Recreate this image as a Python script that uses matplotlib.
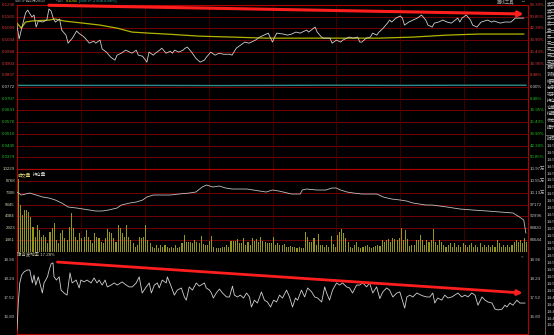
import numpy as np
import matplotlib
matplotlib.use("Agg")
import matplotlib.pyplot as plt

plt.rcParams['font.family'] = ['Liberation Sans', 'Noto Sans CJK SC', 'DejaVu Sans']

W, H = 554, 335

# ---------------- data ----------------
pre_close = 0.0772          # 0.00% line
price_step = 0.006547       # one grid step = 8.48%

price_labels = ["0.1230", "0.1165", "0.1099", "0.1034", "0.0968", "0.0903", "0.0837",
                "0.0772", "0.0707", "0.0641", "0.0576", "0.0510", "0.0445", "0.0379"]
pct_labels = ["59.33%", "50.85%", "42.38%", "33.90%", "25.43%", "16.95%", "8.48%",
              "0.00%", "8.48%", "16.95%", "25.43%", "33.90%", "42.38%", "50.85%"]

# minutes since open / last price
price_t = [0, 1, 2, 4, 5, 7, 8, 9, 10, 12,
           14, 15, 16, 17, 18, 20, 21, 23, 24, 26,
           28, 29, 31, 32, 34, 36, 37, 39, 40, 42,
           44, 46, 47, 49, 51, 53, 54, 56, 57, 59,
           61, 62, 64, 65, 67, 68, 70, 72, 73, 74,
           76, 78, 79, 80, 82, 84, 86, 88, 89, 91,
           93, 95, 97, 100, 101, 103, 105, 107, 109, 112,
           114, 116, 118, 120, 121, 122, 125, 127, 129, 131,
           133, 134, 136, 137, 140, 141, 143, 144, 147, 148,
           150, 152, 153, 155, 156, 158, 160, 161, 162, 164,
           166, 167, 169, 170, 172, 174, 175, 176, 178, 180,
           181, 182, 184, 186, 188, 190, 192, 193, 195, 196,
           198, 200, 202, 204, 207, 208, 209, 211, 213, 214,
           216, 218, 221, 223, 224, 227, 229, 232, 234, 236,
           238]
price = [0.1118, 0.1040, 0.1090, 0.1185, 0.1202, 0.1163, 0.1174, 0.1107, 0.1141, 0.1135,
         0.1146, 0.1208, 0.1197, 0.1157, 0.1135, 0.1152, 0.1090, 0.1062, 0.1017, 0.1045,
         0.1085, 0.1073, 0.1056, 0.1045, 0.1017, 0.1028, 0.1017, 0.1034, 0.0984, 0.0967,
         0.0939, 0.0922, 0.0950, 0.0961, 0.0978, 0.0967, 0.0961, 0.0978, 0.0950, 0.0944,
         0.0911, 0.0967, 0.0950, 0.0961, 0.0978, 0.0989, 0.0961, 0.0972, 0.0961, 0.0978,
         0.0967, 0.0978, 0.0989, 0.0995, 0.0967, 0.0933, 0.0911, 0.0922, 0.0939, 0.0967,
         0.0950, 0.0961, 0.0955, 0.0955, 0.0950, 0.0989, 0.1006, 0.1023, 0.1017, 0.1034,
         0.1051, 0.1062, 0.1073, 0.1023, 0.1051, 0.1073, 0.1068, 0.1062, 0.1068, 0.1079,
         0.1073, 0.1079, 0.1090, 0.1079, 0.1107, 0.1079, 0.1051, 0.1045, 0.1045, 0.1017,
         0.1034, 0.1023, 0.1034, 0.1045, 0.1051, 0.1045, 0.1051, 0.1023, 0.1023, 0.1045,
         0.1051, 0.1073, 0.1062, 0.1079, 0.1101, 0.1129, 0.1146, 0.1135, 0.1157, 0.1169,
         0.1157, 0.1118, 0.1135, 0.1146, 0.1157, 0.1174, 0.1146, 0.1118, 0.1107, 0.1129,
         0.1135, 0.1146, 0.1135, 0.1129, 0.1157, 0.1135, 0.1157, 0.1174, 0.1146, 0.1118,
         0.1107, 0.1135, 0.1146, 0.1135, 0.1141, 0.1129, 0.1135, 0.1135, 0.1157, 0.1157,
         0.1157]

avg_t = [0, 2, 4, 7, 15, 18, 22, 31, 39, 47, 54, 62, 70, 86, 101, 117, 133, 156, 170,
         186, 202, 217, 238]
avg_price = [0.1129, 0.1101, 0.1135, 0.1141, 0.1146, 0.1152, 0.1141, 0.1129, 0.1118,
             0.1101, 0.1079, 0.1073, 0.1068, 0.1056, 0.1051, 0.1045, 0.1045, 0.1045,
             0.1045, 0.1051, 0.1062, 0.1068, 0.1068]

ref_t = [0, 60, 95, 120, 150, 180, 220, 239]
ref_price = [0.0781, 0.0781, 0.0780, 0.0781, 0.0782, 0.0781, 0.0782, 0.0782]

# volume per minute
vol_labels = ["10229", "8768", "7306", "5845", "4384", "2923", "1461"]
vol_top = 10229
volume = [9000, 5790, 4560, 5170, 5170, 4930, 4310, 3080, 1850, 3330,
          2710, 1850, 2090, 1850, 1110, 2460, 2960, 3570, 1480, 1110,
          2340, 2710, 1720, 1480, 3080, 4800, 2960, 1850, 1480, 2340,
          1720, 1850, 2710, 1850, 1480, 1110, 2340, 1850, 1720, 1230,
          1110, 1720, 2830, 2460, 2340, 1720, 1230, 3330, 2960, 2340,
          1850, 3330, 1850, 1480, 1110, 620, 860, 1850, 1720, 1850,
          3330, 1480, 1110, 620, 490, 860, 490, 860, 620, 860,
          620, 490, 620, 490, 860, 490, 620, 1110, 2090, 1230,
          1230, 1230, 1110, 1480, 1270, 1150,
          2010, 990, 860, 860, 1360, 2010, 650, 530, 530, 530,
          650, 650, 860, 650, 1360, 1360, 1360, 1600, 1070, 1070,
          1680, 860, 1190, 860, 1680, 1360, 1600, 1190, 1890, 1360,
          1190, 1070, 1070, 1070, 1890, 860, 1070, 860, 860, 950,
          660, 660, 780, 660, 660, 530, 660, 530, 530, 2500,
          1890, 1270, 1190, 1680, 860, 2180, 860, 860, 660, 860,
          660, 2010, 950, 660, 2090, 2500, 2830, 2300, 1770, 1270,
          660, 530, 860, 1270, 660, 530, 660, 780, 860, 660,
          530, 660, 780, 860, 780,
          1480, 1270, 1480, 1560, 1270, 1680, 1560, 1480, 1680, 2920,
          1480, 2710, 1560, 740, 860, 860, 1480, 1480, 2090, 1480,
          860, 1480, 1270, 1480, 2790, 1270, 860, 1480, 1270, 860,
          660, 860, 1070, 660, 1070, 660, 860, 660, 1070, 860,
          660, 860, 1070, 660, 860, 660, 1070, 660, 860, 660,
          860, 660, 860, 660, 1480, 1070, 660, 860, 660, 860,
          660, 860, 1270, 1480, 1270, 1480, 1070, 1680, 1270]

# open interest
oi_labels = ["10.97万", "10.55万", "10.13万", "97172", "92996", "88820", "84644"]
oi_top, oi_bottom = 109700, 80468
oi_t = [0, 2, 6, 9, 12, 15, 18, 21, 24, 28,
        31, 34, 37, 40, 43, 47, 49, 53, 56, 59,
        61, 64, 68, 72, 76, 81, 84, 87, 89, 92,
        95, 98, 101, 108, 111, 117, 120, 123, 127, 129,
        133, 134, 136, 141, 145, 148, 150, 152, 155, 158,
        162, 169, 172, 174, 176, 180, 183, 186, 189, 192,
        195, 202, 208, 214, 221, 227, 233, 236, 238, 239]
oi = [101591, 100535, 101239, 100535, 99831, 99478, 98774, 97718, 96310, 95957,
      95605, 95253, 94901, 94901, 95253, 95957, 97014, 97718, 98070, 98774,
      99831, 100535, 100535, 100535, 100887, 101239, 101591, 103352, 104056, 103352,
      103704, 102999, 102647, 102647, 102295, 101591, 102295, 101943, 101239, 100887,
      100887, 102295, 102647, 102295, 102295, 102999, 102999, 102295, 101591, 101239,
      100887, 100887, 99831, 99478, 99126, 98774, 98422, 97718, 97366, 97014,
      97014, 96310, 95605, 95253, 94901, 94549, 94197, 92789, 91732, 87155]

# implied volatility
iv_ticks = [18.96, 18.24, 17.52, 16.80]
iv_labels = ["18.96", "18.24", "17.52", "16.80"]
iv_range = (16.16, 19.26)
iv_t = [0, 0.6, 1.3, 2.2, 3.3, 4.8, 6.0, 7.2, 8.0, 8.8,
        10.0, 11.2, 11.9, 12.7, 14.3, 15.1, 16.0, 16.9, 17.4, 18.5,
        19.8, 20.7, 22.1, 23.5, 24.9, 25.9, 27.8, 29.2, 30.0, 31.5,
        32.9, 34.8, 36.2, 37.6, 38.6, 40.0, 41.4, 42.4, 44.2, 45.6,
        47.1, 49.4, 51.3, 52.7, 54.1, 56.0, 57.4, 58.8, 60.7, 62.1,
        63.1, 64.5, 65.9, 66.8, 68.2, 70.1, 70.6, 72.5, 73.9, 75.3,
        77.2, 78.6, 79.5, 80.9, 82.4, 84.2, 85.6, 88.0, 88.9, 90.4,
        91.3, 92.2, 93.6, 95.1, 96.5, 98.4, 99.8, 101.2, 102.1, 103.5,
        104.9, 106.4, 107.8, 109.2, 110.1, 111.5, 112.9, 114.8, 116.2, 117.6,
        119.1, 120.5, 121.9, 123.3, 124.7, 126.6, 128.0, 129.4, 130.8, 131.8,
        133.6, 135.1, 136.5, 138.4, 139.8, 141.2, 143.1, 144.5, 145.4, 146.8,
        148.2, 150.1, 151.5, 152.9, 154.8, 156.2, 157.6, 159.5, 160.9, 162.4,
        164.2, 165.6, 167.1, 168.9, 170.4, 171.8, 173.6, 175.0, 176.5, 178.4,
        179.8, 181.2, 182.1, 183.1, 184.5, 185.9, 187.8, 189.2, 190.6, 192.5,
        193.9, 195.3, 196.2, 197.6, 199.5, 200.9, 202.4, 204.2, 205.6, 207.1,
        208.9, 210.4, 211.8, 213.6, 215.1, 216.5, 218.4, 219.8, 221.2, 223.1,
        224.5, 225.9, 227.8, 229.2, 230.1, 231.5, 232.9, 234.8, 236.2, 238.6]
iv = [16.31, 17.33, 18.09, 18.39, 18.51, 18.58, 18.58, 18.09, 18.39, 18.01,
      18.32, 17.94, 17.71, 18.09, 18.32, 18.58, 18.81, 18.85, 18.32, 18.20,
      18.32, 17.82, 17.71, 17.63, 18.47, 18.09, 18.20, 17.90, 18.20, 18.13,
      18.20, 18.09, 18.28, 18.09, 18.20, 18.01, 18.20, 17.94, 18.01, 18.09,
      18.01, 18.13, 18.01, 17.94, 17.94, 18.09, 18.32, 17.71, 17.94, 18.09,
      17.71, 18.01, 18.09, 17.90, 18.20, 18.09, 18.32, 17.94, 17.63, 17.82,
      17.90, 17.56, 17.44, 17.94, 17.82, 18.09, 17.97, 18.09, 17.90, 17.82,
      17.71, 17.52, 17.71, 17.86, 17.71, 17.56, 17.56, 17.97, 17.63, 17.56,
      17.63, 17.52, 17.71, 17.56, 17.18, 17.44, 17.33, 17.75, 17.44, 17.37,
      17.18, 17.44, 17.37, 17.63, 17.52, 17.82, 17.56, 17.18, 17.52, 17.44,
      17.82, 17.56, 17.90, 17.75, 17.56, 17.52, 17.37, 17.94, 17.71, 17.44,
      17.82, 18.09, 18.01, 18.09, 17.94, 17.90, 17.71, 18.01, 18.01, 18.09,
      17.94, 18.09, 17.71, 17.94, 17.50, 17.75, 17.90, 17.82, 17.56, 17.71,
      17.75, 17.37, 17.14, 17.56, 17.63, 17.56, 17.71, 17.65, 17.60, 17.56,
      17.56, 17.71, 17.33, 17.52, 17.44, 17.63, 17.52, 17.56, 17.63, 17.71,
      17.56, 17.63, 17.56, 17.71, 17.63, 17.25, 17.56, 17.44, 17.37, 17.33,
      17.10, 17.07, 17.10, 17.25, 17.18, 17.33, 17.25, 17.44, 17.33, 17.33]

# hand-drawn trend arrows (start, end) in data units
price_arrow = ((15, 0.1229), (238, 0.1180))
iv_arrow = ((19, 18.88), (237.5, 17.71))

side_top = ["卖五", "卖四", "卖三", "卖二", "卖一"]
side_mid = ["买一", "买二", "买三", "买四", "买五"]
side_low = ["最新", "涨跌", "幅度", "总手", "现手", "持仓", "仓差", "结算", "状态", "提示"]
tick_times = ["14:59", "14:59", "14:58", "14:58", "14:57", "14:57", "14:56", "14:56",
              "14:55", "14:55", "14:55", "14:54", "14:54", "14:53", "14:53", "14:52",
              "14:52", "14:51", "14:51", "14:50", "14:50", "14:50", "14:49", "14:49",
              "14:48", "14:48", "14:47"]

# ---------------- style ----------------
BG = "black"
GRID = "#8a0000"
VGRID = "#4a0000"
BORDER = "#b00000"
FS = 3.2
UP, DOWN, FLAT = "#e03a3a", "#22c022", "#c8c8c8"

fig = plt.figure(figsize=(W / 100, H / 100), dpi=100, facecolor=BG)


def ptxt(x, y, s, **kw):
    kw.setdefault("fontsize", FS)
    kw.setdefault("va", "center")
    fig.text(x / W, 1 - y / H, s, **kw)


def px_axes(x0, y0, x1, y1):
    ax = fig.add_axes([x0 / W, 1 - y1 / H, (x1 - x0) / W, (y1 - y0) / H])
    ax.set_facecolor(BG)
    ax.set_xlim(0, 240)
    ax.set_xticks([])
    ax.set_yticks([])
    for s in ax.spines.values():
        s.set_color(BORDER)
        s.set_linewidth(0.8)
    return ax


X0, X1 = 17, 528
half_hours = [30, 60, 90, 120, 150, 180, 210]

# ---- price panel ----
ax1 = px_axes(X0, 5, X1, 169)
ax1.set_ylim(pre_close - 7 * price_step, pre_close + 7 * price_step)
levels = pre_close + price_step * np.arange(7, -7, -1)
for v in levels[1:]:
    ax1.axhline(v, color=GRID, lw=0.6, zorder=1)
for t in half_hours:
    ax1.axvline(t, color=VGRID, lw=0.6, zorder=1)
for i, v in enumerate(levels):
    c = UP if i < 7 else (FLAT if i == 7 else DOWN)
    ax1.text(-0.004, v, price_labels[i], transform=ax1.get_yaxis_transform(),
             ha="right", va="center", fontsize=FS, color=c)
    ax1.text(1.003, v, pct_labels[i], transform=ax1.get_yaxis_transform(),
             ha="left", va="center", fontsize=FS, color=c)
ax1.plot(ref_t, ref_price, color="#2a8c8c", lw=1.0, zorder=2)
ax1.plot(avg_t, avg_price, color="#b4b400", lw=0.9, zorder=3)
ax1.plot(price_t, price, color="#d0d0d0", lw=0.6, zorder=4)
ax1.annotate("", xy=price_arrow[1], xytext=price_arrow[0],
             arrowprops=dict(arrowstyle="-|>", color="#ff1e1e", lw=2.2,
                             mutation_scale=7, shrinkA=0, shrinkB=0), zorder=6)

# ---- volume / open interest panel ----
ax2 = px_axes(X0, 169, X1, 252)
ax2.set_ylim(0, vol_top)
vlev = vol_top * np.arange(7, 0, -1) / 7
for v in vlev[1:]:
    ax2.axhline(v, color=GRID, lw=0.6, zorder=1)
for t in half_hours:
    ax2.axvline(t, color=VGRID, lw=0.6, zorder=1)
ax2.bar(np.arange(len(volume)) + 0.5, volume, width=0.5, color="#96961c",
        linewidth=0, zorder=2)
for v, s in zip(vlev, vol_labels):
    ax2.text(-0.004, v, s, transform=ax2.get_yaxis_transform(), ha="right",
             va="center", fontsize=FS, color="#c8c8a8")
ax2b = ax2.twinx()
ax2b.set_ylim(oi_bottom, oi_top)
ax2b.set_yticks([])
for s in ax2b.spines.values():
    s.set_visible(False)
ax2b.plot(oi_t, oi, color="#c0c0c0", lw=0.6, zorder=3)
oilev = oi_bottom + (oi_top - oi_bottom) * np.arange(7, 0, -1) / 7
for v, s in zip(oilev, oi_labels):
    ax2b.text(1.003, v, s, transform=ax2b.get_yaxis_transform(), ha="left",
              va="center", fontsize=FS, color="#c0c0c0")
ax2.text(0.002, 0.93, "成交量", transform=ax2.transAxes, fontsize=FS,
         color="#d8d070", va="center")
ax2.text(0.032, 0.93, "持仓量", transform=ax2.transAxes, fontsize=FS,
         color="#c8c8c8", va="center")

# ---- implied volatility panel ----
ax3 = px_axes(X0, 252, X1, 334)
ax3.set_ylim(*iv_range)
ax3.spines["top"].set_visible(False)
for v, s in zip(iv_ticks, iv_labels):
    ax3.text(-0.004, v, s, transform=ax3.get_yaxis_transform(), ha="right",
             va="center", fontsize=FS, color="#c0c0c0")
    ax3.text(1.003, v, s, transform=ax3.get_yaxis_transform(), ha="left",
             va="center", fontsize=FS, color="#c0c0c0")
ax3.plot(iv_t, iv, color="#d0d0d0", lw=0.6, zorder=3)
ax3.text(0.0, 0.965, "隐含波动率 17.28%", transform=ax3.transAxes, fontsize=FS,
         color="#d0d0b0", va="center")
ax3.text(0.99, 0.95, "×", transform=ax3.transAxes, fontsize=FS, color="#a0a0a0",
         va="center", ha="right")
ax3.annotate("", xy=iv_arrow[1], xytext=iv_arrow[0],
             arrowprops=dict(arrowstyle="-|>", color="#ff1e1e", lw=2.0,
                             mutation_scale=7, shrinkA=0, shrinkB=0), zorder=6)

# ---- header line ----
ptxt(15, 1.2, "50ETF购1月2850", color="#b0b0b0", fontsize=2.9)
ptxt(56, 1.2, "均价", color="#b0b0b0", fontsize=2.9)
ptxt(66, 1.2, "0.1045", color="#d8d800", fontsize=2.9)
ptxt(79, 1.2, "[50ETF 2.858 0.88%]", color="#30b0b0", fontsize=2.9)
ptxt(497, 1.5, "画线工具", color="#a0a0a0")
ptxt(522, 1.5, "□", color="#a0a0a0")

# ---- right side quote column ----
fig.add_artist(plt.Line2D([545 / W, 545 / W], [0, 1], color="#707070", lw=0.6))
for yb in [32, 64, 135]:
    fig.add_artist(plt.Line2D([545 / W, 1], [1 - yb / H, 1 - yb / H],
                              color="#707070", lw=0.6))
for i, s in enumerate(side_top):
    ptxt(546.5, 4 + i * 6.3, s, color="#c0c0c0")
for i, s in enumerate(side_mid):
    ptxt(546.5, 37 + i * 6.3, s, color="#c0c0c0")
for i, s in enumerate(side_low):
    ptxt(546.5, 68 + i * 6.6, s, color="#c0c0c0")
ptxt(546.5, 139, "时间", color="#c0c0c0")
for i, s in enumerate(tick_times):
    ptxt(546.5, 146 + i * 6.9, s[:4], color="#c0c0c0")

fig.savefig("out.png", dpi=100, facecolor=BG)
